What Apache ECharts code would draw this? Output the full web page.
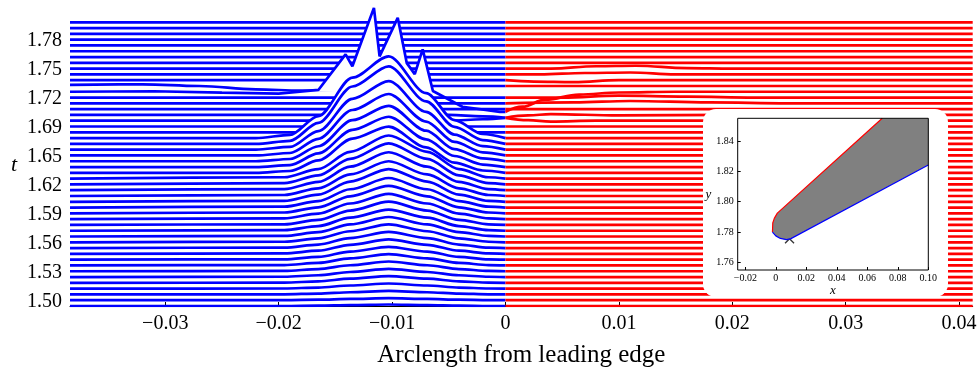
<!DOCTYPE html>
<html>
<head>
<meta charset="utf-8">
<script src="https://cdn.jsdelivr.net/npm/echarts@6.0.0/dist/echarts.min.js"></script>
<style>
  html, body { margin: 0; padding: 0; background: #fff; }
  #chart { width: 980px; height: 373px; }
</style>
</head>
<body>
<div id="chart"></div>
<script>
// baseline time of each snapshot, bottom to top
const lineTimes = [
  1.4952, 1.5014, 1.5076, 1.5137, 1.5199, 1.5261, 1.5323, 1.5385, 1.5446, 1.5508,
  1.5570, 1.5632, 1.5694, 1.5755, 1.5817, 1.5879, 1.5941, 1.6003, 1.6064, 1.6126,
  1.6188, 1.6250, 1.6312, 1.6373, 1.6435, 1.6497, 1.6559, 1.6621, 1.6682, 1.6744,
  1.6806, 1.6868, 1.6930, 1.6991, 1.7053, 1.7115, 1.7177, 1.7239, 1.7300, 1.7362,
  1.7424, 1.7486, 1.7548, 1.7609, 1.7671, 1.7733, 1.7795, 1.7857, 1.7918, 1.7980,
]
const sStart = -0.0384
const sEnd = 0.0412

// lower snapshots: bump on the blue (lower) surface
const humpS = [-0.0384, -0.0195, -0.0165, -0.0137, -0.0103, -0.0069, -0.0041, -0.0015, 0]
const humpRows = [
  [0, 0, 0.0004, 0.001, 0.0016, 0.001, 0.0004, 0, 0],
  [0, 0.0001, 0.0005, 0.0013, 0.0021, 0.0013, 0.0005, 0.0001, 0],
  [0, 0.0001, 0.0008, 0.0023, 0.0037, 0.0023, 0.0008, 0.0001, 0],
  [0, 0.0002, 0.0012, 0.0034, 0.0055, 0.0034, 0.0012, 0.0002, 0],
  [0, 0.0002, 0.0016, 0.0045, 0.0072, 0.0045, 0.0016, 0.0002, 0],
  [0, 0.0003, 0.0019, 0.0054, 0.0087, 0.0054, 0.0019, 0.0003, 0],
  [0, 0.0003, 0.0023, 0.0064, 0.0104, 0.0064, 0.0023, 0.0003, 0],
  [0, 0.0004, 0.0027, 0.0075, 0.0121, 0.0075, 0.0027, 0.0004, 0],
  [0, 0.0004, 0.0030, 0.0086, 0.0138, 0.0086, 0.0030, 0.0004, 0],
  [0, 0.0005, 0.0034, 0.0097, 0.0156, 0.0097, 0.0034, 0.0005, 0],
  [0, 0.0005, 0.0038, 0.0107, 0.0173, 0.0107, 0.0038, 0.0005, 0],
  [0, 0.0006, 0.0042, 0.0118, 0.0191, 0.0118, 0.0042, 0.0006, 0],
  [0, 0.0006, 0.0046, 0.0129, 0.0208, 0.0129, 0.0046, 0.0006, 0],
  [0, 0.0007, 0.0050, 0.0140, 0.0226, 0.0140, 0.0050, 0.0007, 0],
  [0, 0.0007, 0.0055, 0.0154, 0.0248, 0.0154, 0.0055, 0.0007, 0],
  [0, 0.0008, 0.0059, 0.0167, 0.0270, 0.0167, 0.0059, 0.0008, 0],
  [0, 0.0009, 0.0064, 0.0182, 0.0293, 0.0182, 0.0064, 0.0009, 0],
  [0, 0.0009, 0.0069, 0.0195, 0.0315, 0.0195, 0.0069, 0.0009, 0],
  [0, 0.0010, 0.0077, 0.0216, 0.0349, 0.0216, 0.0077, 0.0010, 0],
  [0, 0.0011, 0.0082, 0.0230, 0.0371, 0.0230, 0.0082, 0.0011, 0],
  [0, 0.0012, 0.0089, 0.0251, 0.0405, 0.0251, 0.0089, 0.0012, 0],
  [0, 0.0013, 0.0096, 0.0272, 0.0438, 0.0272, 0.0096, 0.0013, 0],
  [0, 0.0014, 0.0101, 0.0285, 0.0460, 0.0285, 0.0101, 0.0014, 0],
]
// upper snapshots: taller bump, steeper on the trailing side
const wideS = [-0.0384, -0.022, -0.019, -0.0165, -0.0135, -0.0103, -0.007, -0.0045, -0.002, 0]
const wideRows = [
  [0, 0, 0.0020, 0.0133, 0.0366, 0.0494, 0.0272, 0.0109, 0.0025, 0],
  [0, 0, 0.0021, 0.0145, 0.0397, 0.0537, 0.0295, 0.0118, 0.0027, 0],
  [0, 0, 0.0024, 0.0160, 0.0438, 0.0592, 0.0326, 0.0130, 0.0030, 0],
  [0, 0, 0.0026, 0.0177, 0.0485, 0.0656, 0.0361, 0.0144, 0.0033, 0],
  [0, 0, 0.0029, 0.0198, 0.0542, 0.0732, 0.0403, 0.0161, 0.0037, 0],
  [0, 0, 0.0033, 0.0224, 0.0613, 0.0828, 0.0455, 0.0182, 0.0041, 0],
  [0, 0, 0.0035, 0.0235, 0.0645, 0.0872, 0.0480, 0.0192, 0.0044, 0],
]
// irregular blue snapshots, [s, offset]
const blueOther = {
  32: [[-0.0384, 0], [-0.005, 0], [-0.002, 0.0015], [0, 0.003]],
  33: [[-0.0384, 0], [-0.005, 0], [-0.002, -0.0015], [0, -0.003]],
  37: [[-0.0384, 0], [-0.031, 0.0005], [-0.025, -0.001], [-0.02, -0.002], [-0.0165, 0.0019],
       [-0.0141, 0.0399], [-0.0135, 0.0272], [-0.0116, 0.0895], [-0.0111, 0.0378],
       [-0.0095, 0.0789], [-0.0087, 0.0305], [-0.008, 0.0188], [-0.0073, 0.0452],
       [-0.0064, 0.0008], [-0.0038, -0.016], [-0.0005, -0.0215], [0, -0.0215]],
  38: [[-0.0384, 0.0012], [-0.032, 0.0018], [-0.027, 0], [-0.022, -0.0035], [-0.018, -0.005],
       [-0.015, -0.004], [-0.012, 0], [0, 0]],
}
const spikyLines = [37]
// irregular red snapshots, [s, offset]
const redOther = {
  32: [[0, 0.003], [0.002, 0.0005], [0.004, -0.001], [0.008, 0], [0.0412, 0]],
  33: [[0, -0.003], [0.002, -0.0005], [0.004, 0.001], [0.01, -0.0005], [0.02, 0], [0.0412, 0]],
  35: [[0, 0], [0.006, 0.001], [0.011, 0.0025], [0.018, 0.001], [0.025, 0], [0.0412, 0]],
  36: [[0, 0], [0.005, 0], [0.01, 0.002], [0.016, 0.001], [0.022, 0], [0.0412, 0]],
  37: [[0, -0.0215], [0.0015, -0.016], [0.0035, -0.0085], [0.0065, -0.003], [0.01, -0.0008], [0.015, 0], [0.0412, 0]],
  39: [[0, 0], [0.0025, -0.0015], [0.006, -0.002], [0.01, 0], [0.0412, 0]],
  40: [[0, 0], [0.003, 0], [0.007, 0.0015], [0.011, 0.002], [0.015, 0], [0.0412, 0]],
  41: [[0, 0], [0.004, 0], [0.008, 0.0025], [0.0115, 0.003], [0.016, 0.0005], [0.02, 0], [0.0412, 0]],
}

const xTicks = [-0.03, -0.02, -0.01, 0, 0.01, 0.02, 0.03, 0.04]
const yTicks = [1.50, 1.5309, 1.5618, 1.5927, 1.6236, 1.6545, 1.6854, 1.7163, 1.7472, 1.7781]

// inset: section of the body near the leading edge
const insetUpper = [[-0.0022, 1.780], [-0.002, 1.786], [-0.001, 1.789], [0.001, 1.7925], [0.0698, 1.855]]
const insetLower = [[-0.0022, 1.780], [0, 1.7775], [0.003, 1.7758], [0.007, 1.775], [0.0099, 1.7757], [0.1, 1.8242]]
const insetFillCorner = [[0.1, 1.855], [0.1, 1.8242]]
const insetMarker = [[0.009, 1.7756]]
const insetXTicks = [-0.02, 0, 0.02, 0.04, 0.06, 0.08, 0.1]
const insetYTicks = [1.76, 1.78, 1.80, 1.82, 1.84]

const serif = 'Liberation Serif'

function fmt(v) {
  if (v === 0)
    return '0'
  return (v < 0 ? '\u2212' : '') + Math.abs(v).toFixed(2)
}

function blueProfile(i) {
  if (i < humpRows.length)
    return humpS.map((s, k) => [s, humpRows[i][k]])
  const w = i - humpRows.length
  if (w < wideRows.length)
    return wideS.map((s, k) => [s, wideRows[w][k]])
  return blueOther[i] || [[sStart, 0], [0, 0]]
}

function redProfile(i) {
  return redOther[i] || [[0, 0], [sEnd, 0]]
}

function makeLine(profile, base, color, smooth, z) {
  return {
    type: 'line',
    xAxisIndex: 0,
    yAxisIndex: 0,
    data: profile.map(p => [p[0], +(base + p[1]).toFixed(5)]),
    symbol: 'none',
    smooth,
    smoothMonotone: 'x',
    silent: true,
    lineStyle: { color, width: 2.7 },
    // white fill between the curve and its own baseline hides what lies behind
    areaStyle: { color: '#fff', opacity: 1, origin: base },
    z,
  }
}

const series = []
// draw from the top snapshot down so lower ones hide what is behind them
let zOrder = 2
for (let i = lineTimes.length - 1; i >= 0; i--) {
  const base = lineTimes[i]
  const spiky = spikyLines.includes(i)
  const blueSmooth = spiky ? false : (i < humpRows.length + wideRows.length ? 0.3 : 0.4)
  series.push(makeLine(blueProfile(i), base, '#0000ff', blueSmooth, zOrder++))
  series.push(makeLine(redProfile(i), base, '#ff0000', 0.4, zOrder++))
}

// inset series
const insetPolygon = insetUpper.concat(insetFillCorner, insetLower.slice().reverse())
series.push({
  type: 'scatter',
  xAxisIndex: 1,
  yAxisIndex: 1,
  data: insetMarker,
  symbol: 'path://M0,0L10,10M10,0L0,10',
  symbolSize: 9,
  itemStyle: { color: 'none', borderColor: '#000', borderWidth: 1.3 },
  silent: true,
  z: 210,
})
series.push({
  type: 'custom',
  xAxisIndex: 1,
  yAxisIndex: 1,
  clip: true,
  silent: true,
  data: [0],
  renderItem(params, api) {
    return {
      type: 'polygon',
      shape: { points: insetPolygon.map(p => api.coord(p)) },
      style: { fill: '#808080' },
    }
  },
  z: 211,
})
series.push({
  type: 'line',
  xAxisIndex: 1,
  yAxisIndex: 1,
  data: insetUpper,
  symbol: 'none',
  silent: true,
  lineStyle: { color: '#ff0000', width: 1.2 },
  z: 212,
})
series.push({
  type: 'line',
  xAxisIndex: 1,
  yAxisIndex: 1,
  data: insetLower,
  symbol: 'none',
  silent: true,
  lineStyle: { color: '#0000ff', width: 1.2 },
  z: 212,
})

const option = {
  animation: false,
  backgroundColor: '#fff',
  textStyle: { fontFamily: serif },
  grid: [
    { left: 70, right: 7.3, top: 4.5, bottom: 63.5 },
    { left: 737.7, top: 118.3, width: 190.6, height: 151.7, show: true, backgroundColor: 'rgba(0,0,0,0)', borderColor: '#000', borderWidth: 1, z: 215 },
  ],
  xAxis: [
    {
      type: 'value',
      gridIndex: 0,
      min: sStart,
      max: sEnd,
      name: 'Arclength from leading edge',
      nameLocation: 'middle',
      nameGap: 37,
      nameTextStyle: { fontFamily: serif, fontSize: 25, color: '#000' },
      axisLine: { show: true, onZero: false, lineStyle: { color: '#000', width: 1 } },
      axisTick: { show: true, inside: true, length: 4, customValues: xTicks, lineStyle: { color: '#000' } },
      axisLabel: { customValues: xTicks, formatter: fmt, fontFamily: serif, fontSize: 20, color: '#000', margin: 8 },
      splitLine: { show: false },
      z: 1,
    },
    {
      type: 'value',
      gridIndex: 1,
      min: -0.025,
      max: 0.1,
      name: 'x',
      nameLocation: 'middle',
      nameGap: 14,
      nameTextStyle: { fontFamily: serif, fontSize: 13, fontStyle: 'italic', color: '#000' },
      axisLine: { show: false, onZero: false },
      axisTick: { show: true, inside: true, length: 3, customValues: insetXTicks, lineStyle: { color: '#000' } },
      axisLabel: { customValues: insetXTicks, formatter: fmt, fontFamily: serif, fontSize: 10, color: '#000', margin: 3 },
      splitLine: { show: false },
      z: 216,
    },
  ],
  yAxis: [
    {
      type: 'value',
      gridIndex: 0,
      min: 1.4952,
      max: 1.817,
      name: 't',
      nameLocation: 'middle',
      nameRotate: 0,
      nameGap: 53,
      nameTextStyle: { fontFamily: serif, fontSize: 22, fontStyle: 'italic', color: '#000', verticalAlign: 'top', lineHeight: 20 },
      axisLine: { show: false, onZero: false },
      axisTick: { show: false },
      axisLabel: { customValues: yTicks, formatter: v => v.toFixed(2), fontFamily: serif, fontSize: 20, color: '#000', margin: 8 },
      splitLine: { show: false },
    },
    {
      type: 'value',
      gridIndex: 1,
      min: 1.755,
      max: 1.855,
      name: 'y',
      nameLocation: 'middle',
      nameRotate: 0,
      nameGap: 26,
      nameTextStyle: { fontFamily: serif, fontSize: 13, fontStyle: 'italic', color: '#000' },
      axisLine: { show: false, onZero: false },
      axisTick: { show: true, inside: true, length: 3, customValues: insetYTicks, lineStyle: { color: '#000' } },
      axisLabel: { customValues: insetYTicks, formatter: v => v.toFixed(2), fontFamily: serif, fontSize: 10, color: '#000', margin: 4 },
      splitLine: { show: false },
      z: 216,
    },
  ],
  graphic: [
    {
      type: 'rect',
      shape: { x: 703, y: 109, width: 245, height: 188, r: 13 },
      style: { fill: '#fff' },
      silent: true,
      z: 200,
    },
  ],
  series,
}

const chart = echarts.init(document.getElementById('chart'), null, { renderer: 'canvas' })
chart.setOption(option)
</script>
</body>
</html>
